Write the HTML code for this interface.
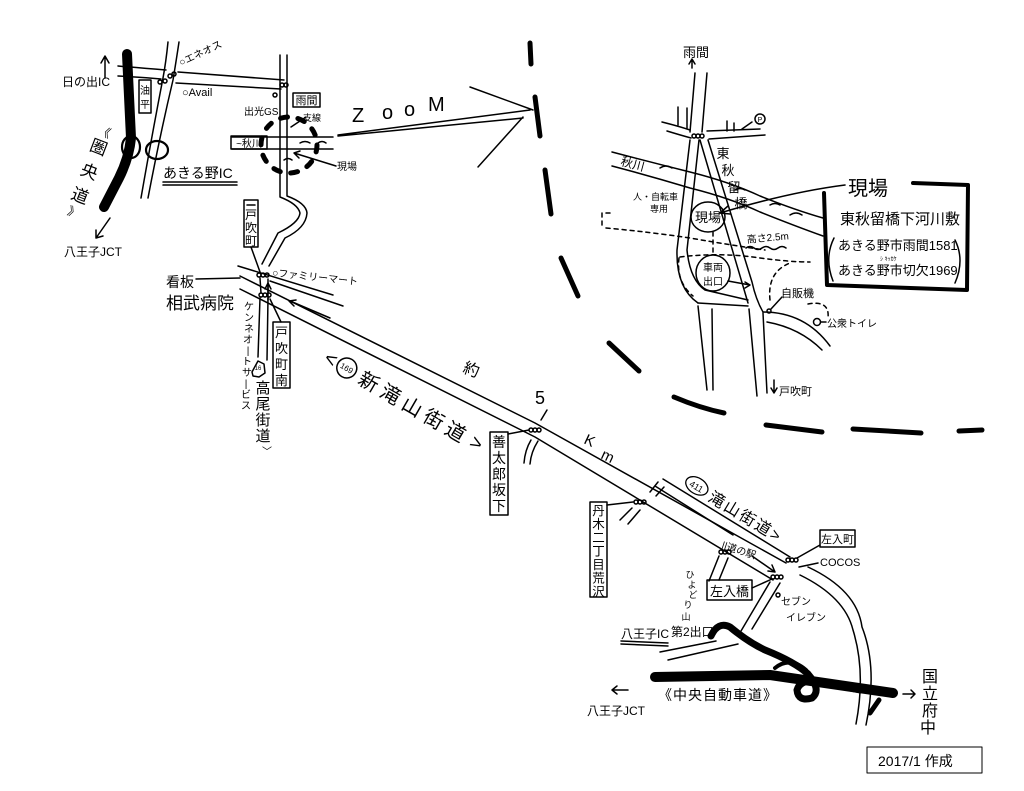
<!DOCTYPE html>
<html><head><meta charset="utf-8">
<style>
html,body{margin:0;padding:0;background:#fff;}
svg{display:block;}
text{font-family:"Liberation Sans","Noto Sans CJK JP",sans-serif;fill:#000;stroke:none;}
</style></head><body>
<svg width="1024" height="791" viewBox="0 0 1024 791" xmlns="http://www.w3.org/2000/svg">
<rect width="1024" height="791" fill="#fff"/>
<g fill="none" stroke="#000" stroke-width="1.5" stroke-linecap="round" stroke-linejoin="round">
 <!-- ===== top-left map ===== -->
 <path d="M127,54 L131,138 Q129,158 119,178 L104,207" stroke-width="10"/>
 <path d="M105,78 L105,57 M101,63 L105,56 L109,63"/>
 <path d="M110,218 L96,238 M96,230 L96,238 L103,236"/>
 <path d="M118,66 Q140,68 166,70"/>
 <path d="M118,76 Q140,77 161,79"/>
 <path d="M178,72 L284,80"/>
 <path d="M176,83 L281,89"/>
 <path d="M168,42 Q166,62 163,78 Q152,135 141,198"/>
 <path d="M179,42 Q176,62 173,80 Q160,135 148,198"/>
 <ellipse cx="131" cy="147" rx="9" ry="11" stroke-width="2.2"/>
 <ellipse cx="157" cy="150" rx="11" ry="9" stroke-width="2.2"/>
 <rect x="139" y="80" width="12" height="33"/>
 <path d="M280,55 L280,197 Q298,204 300,213 Q299,223 278,233 L262,264"/>
 <path d="M287,55 L287,196 Q306,203 307,213 Q306,228 285,238 L269,266"/>
 <circle cx="289" cy="145" r="28" stroke-width="5" stroke-dasharray="7 10.6"/>
 <path d="M232,137 L333,137 M232,149 L333,149"/>
 <path d="M300,143 q5,-3 10,0 M318,143 q4,-3 8,0 M284,160 q4,-3 8,0"/>
 <rect x="231" y="136" width="36" height="13"/>
 <rect x="293" y="93" width="27" height="14"/>
 <path d="M306,117 L291,127"/>
 <path d="M336,166 L294,153 M300,151 L294,153 L299,158"/>
 <path d="M163,182 L237,182 M163,185 L237,185"/>
 <rect x="244" y="200" width="14" height="47"/>
 <path d="M247,205 L255,205"/>
 <path d="M251,247 L260,272"/>
 <circle cx="170" cy="76" r="2"/><circle cx="174" cy="74" r="2"/>
 <circle cx="282" cy="85" r="2"/><circle cx="286" cy="85" r="2"/>
 <circle cx="275" cy="95" r="2"/>
 <circle cx="160" cy="82" r="2"/><circle cx="165" cy="81" r="2"/>

 <!-- junction area -->
 <path d="M238,266 L333,295"/>
 <path d="M270,281 L343,306"/>
 <path d="M196,279 L240,278"/>
 <path d="M260,278 L261,293 M268,279 L268,293"/>
 <path d="M260,298 L258,357 M268,298 L267,360"/>
 <path d="M252,372 L258,361 L264,364 L265,373 L259,377 L253,376 Z"/>
 <path d="M268,300 L268,284 M265,289 L268,283 L271,289"/>
 <path d="M330,318 L290,301 M296,300 L289,301 L294,306"/>
 <rect x="273" y="322" width="17" height="66"/>
 <path d="M281,322 L270,299"/>
 <circle cx="259" cy="275" r="2"/><circle cx="263" cy="275" r="2"/><circle cx="267" cy="275" r="2"/>
 <circle cx="261" cy="295" r="2"/><circle cx="265" cy="295" r="2"/><circle cx="269" cy="295" r="2"/>

 <!-- main road 新滝山街道 -->
 <path d="M240,276 L535,423 L786,563"/>
 <path d="M240,289 L535,437 L773,580"/>
 <path d="M531,440 Q525,450 524,463 M538,441 Q531,452 530,464 M541,420 L547,410"/>
 <circle cx="531" cy="430" r="2"/><circle cx="535" cy="430" r="2"/><circle cx="539" cy="430" r="2"/>
 <rect x="490" y="432" width="18" height="83"/>
 <path d="M508,434 L529,430"/>
 <path d="M632,508 L620,520 M640,510 L628,524 M650,492 L658,482 M656,496 L664,487"/>
 <circle cx="636" cy="502" r="2"/><circle cx="640" cy="502" r="2"/><circle cx="644" cy="502" r="2"/>
 <rect x="590" y="502" width="17" height="95"/>
 <path d="M607,505 L633,502"/>
 <!-- 411 road -->
 <path d="M663,479 L790,557"/>
 <path d="M655,486 L733,535"/>
 <path d="M719,556 L709,581 M728,558 L719,580"/>
 <circle cx="721" cy="552" r="2"/><circle cx="725" cy="552" r="2"/><circle cx="729" cy="552" r="2"/>
 <path d="M752,556 L775,572 M768,571 L775,572 L772,565"/>
 <circle cx="773" cy="577" r="2"/><circle cx="777" cy="577" r="2"/><circle cx="781" cy="577" r="2"/>
 <circle cx="788" cy="560" r="2"/><circle cx="792" cy="560" r="2"/><circle cx="796" cy="560" r="2"/>
 <rect x="820" y="530" width="35" height="17"/>
 <path d="M820,545 L797,558"/>
 <path d="M818,563 L799,567"/>
 <rect x="707" y="580" width="45" height="20"/>
 <path d="M752,588 L772,579"/>
 <circle cx="778" cy="595" r="2"/>
 <path d="M770,582 L741,631 M780,583 L752,629"/>
 <path d="M800,575 Q845,597 853,630 Q866,672 856,724"/>
 <path d="M808,567 Q857,590 862,627 Q878,668 866,725"/>

 <!-- expressway bottom -->
 <path d="M655,677 L770,675 L893,693" stroke-width="10"/>
 <path d="M711,636 Q718,621 730,627 Q748,642 765,650 Q795,662 808,674 Q822,690 812,698 Q798,702 797,690 Q800,680 815,681 L860,690" stroke-width="7"/>
 <path d="M775,668 Q790,656 806,670" stroke-width="4"/>
 <path d="M870,713 L879,700" stroke-width="5"/>
 <path d="M660,652 L716,641 M668,660 L738,644"/>
 <path d="M621,641 L668,643 M621,644 L668,646"/>
 <path d="M612,690 L628,690 M617,686 L612,690 L617,694"/>
 <path d="M903,694 L915,694 M911,690 L915,694 L911,698"/>

 <!-- ZOOM arrow -->
 <path d="M338,135 L530,110 M338,136 L523,118 M470,87 L533,110 M523,117 L478,167"/>

 <!-- dashed arc -->
 <g stroke-width="5">
  <path d="M530,43 L531,64"/>
  <path d="M535,97 L540,136"/>
  <path d="M545,170 L551,214"/>
  <path d="M561,258 L578,296"/>
  <path d="M609,343 L639,371"/>
  <path d="M674,397 Q700,408 724,413"/>
  <path d="M766,425 L822,432"/>
  <path d="M853,429 L921,433"/>
  <path d="M959,431 L982,430"/>
 </g>

 <!-- ===== zoom map ===== -->
 <path d="M692,68 L692,60 M689,64 L692,59 L695,64"/>
 <path d="M695,73 L690,132 M707,73 L702,132"/>
 <path d="M662,122 Q678,126 690,130 M667,131 Q680,135 691,138"/>
 <path d="M707,131 L760,129 M709,139 L765,135"/>
 <path d="M678,107 L678,125 M687,108 L687,128"/>
 <path d="M727,121 L727,131 M734,123 L734,131 M742,129 L752,122"/>
 <circle cx="760" cy="119" r="5"/>
 <circle cx="694" cy="136" r="2"/><circle cx="698" cy="136" r="2"/><circle cx="702" cy="136" r="2"/>
 <path d="M690,140 L677,250 Q676,288 698,303"/>
 <path d="M699,140 L687,250 Q690,280 705,290 L748,300"/>
 <path d="M700,140 L748,303 M708,140 L752,282 Q756,300 763,312"/>
 <path d="M698,303 L748,306"/>
 <path d="M698,306 L707,390 M712,309 L713,390 M749,309 L757,396 M763,313 L767,393"/>
 <path d="M763,312 Q805,312 830,346 M767,322 Q800,328 822,350"/>
 <path d="M612,152 Q650,162 690,172 Q730,182 760,196 Q795,210 823,218"/>
 <path d="M612,166 Q650,176 690,188 Q730,198 760,212 Q795,226 823,236"/>
 <path d="M660,168 q6,-4 12,0 M735,190 q5,-3 10,0 M790,215 q6,-4 12,0 M770,205 q5,-3 10,0"/>
 <ellipse cx="708" cy="217" rx="17" ry="15"/>
 <ellipse cx="713" cy="273" rx="17" ry="18"/>
 <g stroke-dasharray="4 4">
  <path d="M610,213 L602,213 L602,228"/>
  <path d="M606,228 Q650,232 690,238 Q730,245 765,250"/>
  <path d="M680,257 Q720,252 760,258 Q790,262 810,262"/>
  <path d="M713,232 L713,255"/>
  <path d="M679,258 Q676,282 693,296"/>
  <path d="M770,300 Q767,272 790,263"/>
  <path d="M808,304 Q830,300 828,318"/>
 </g>
 <path d="M746,248 q4,-3 8,0 t8,0 t8,0 t8,0 t8,0"/>
 <path d="M728,281 L750,285 M745,282 L750,285 L745,288"/>
 <circle cx="769" cy="311" r="2"/>
 <path d="M771,309 L782,297"/>
 <circle cx="817" cy="322" r="3.5"/>
 <path d="M821,322 L826,322"/>
 <path d="M774,380 L774,392 M771,388 L774,393 L777,388"/>
 <path d="M913,183 L968,185 L967,290 L827,285 L824,193" stroke-width="4"/>
 <path d="M845,185 Q790,192 720,213"/>
 <path d="M728,206 L720,213 L730,214"/>
 <path d="M834,238 Q824,258 833,281 M955,240 Q965,260 955,283"/>

 <rect x="867" y="747" width="115" height="26" stroke-width="1"/>
</g>

<!-- ===== TEXT ===== -->
<g>
 <text x="62" y="86" font-size="12">日の出IC</text>
 <text x="64" y="256" font-size="12">八王子JCT</text>
 <g transform="translate(103,136) rotate(21)" font-size="17" text-anchor="middle">
  <text x="0" y="0" font-size="12">《</text>
  <text x="0" y="18">圏</text>
  <text x="0" y="44">央</text>
  <text x="0" y="70">道</text>
  <text x="0" y="86" font-size="12">》</text>
 </g>
 <text x="181" y="66" font-size="10" transform="rotate(-25 181 66)">○エネオス</text>
 <text x="182" y="96" font-size="11">○Avail</text>
 <text x="145" y="94" font-size="10" text-anchor="middle">油</text>
 <text x="145" y="108" font-size="10" text-anchor="middle">平</text>
 <text x="244" y="115" font-size="10">出光GS</text>
 <text x="306.5" y="104" font-size="11" text-anchor="middle">雨間</text>
 <text x="303" y="121" font-size="9">支線</text>
 <text x="249" y="147" font-size="10" text-anchor="middle">~秋川</text>
 <text x="337" y="170" font-size="10">現場</text>
 <text x="163" y="178" font-size="14">あきる野IC</text>
 <text x="251" y="219" font-size="12" text-anchor="middle">戸</text>
 <text x="251" y="232" font-size="12" text-anchor="middle">吹</text>
 <text x="251" y="245" font-size="12" text-anchor="middle">町</text>
 <text x="272" y="276" font-size="10" transform="rotate(6 272 276)">○ファミリーマート</text>
 <text x="166" y="287" font-size="14">看板</text>
 <text x="166" y="309" font-size="17">相武病院</text>
 <g font-size="10" text-anchor="middle">
  <text x="249" y="310">ケ</text><text x="249" y="321">ン</text><text x="249" y="332">ネ</text>
  <text x="248" y="343">オ</text><text x="248" y="354">|</text><text x="247" y="365">ト</text>
  <text x="247" y="376">サ</text><text x="246" y="387">|</text><text x="246" y="398">ビ</text>
  <text x="246" y="409">ス</text>
 </g>
 <text x="258" y="370" font-size="6" text-anchor="middle">16</text>
 <g font-size="15" text-anchor="middle">
  <text x="263" y="393">高</text><text x="263" y="409">尾</text>
  <text x="263" y="425">街</text><text x="263" y="441">道</text>
 </g>
 <text x="262" y="455" font-size="10">﹀</text>
 <g font-size="13" text-anchor="middle">
  <text x="281.5" y="337">戸</text><text x="281.5" y="353">吹</text>
  <text x="281.5" y="369">町</text><text x="281.5" y="385">南</text>
 </g>
 <g transform="translate(326,356) rotate(30)">
  <text x="0" y="7" font-size="20">&lt;</text>
  <ellipse cx="24" cy="0" rx="10" ry="10" fill="none" stroke="#000" stroke-width="1.5"/>
  <text x="24" y="3" font-size="8" text-anchor="middle">169</text>
  <text x="40" y="8" font-size="20" letter-spacing="5">新滝山街道</text>
  <text x="168" y="7" font-size="20">&gt;</text>
 </g>
 <text x="462" y="372" font-size="16" transform="rotate(20 462 372)">約</text>
 <text x="535" y="404" font-size="18">5</text>
 <text x="583" y="443" font-size="15" transform="rotate(25 583 443)">K</text>
 <text x="600" y="458" font-size="15" transform="rotate(25 600 458)">m</text>
 <g font-size="14" text-anchor="middle">
  <text x="499" y="447">善</text><text x="499" y="463">太</text><text x="499" y="479">郎</text>
  <text x="499" y="495">坂</text><text x="499" y="511">下</text>
 </g>
 <g font-size="12.5" text-anchor="middle">
  <text x="598.5" y="515">丹</text><text x="598.5" y="528.5">木</text><text x="598.5" y="542">二</text>
  <text x="598.5" y="555.5">丁</text><text x="598.5" y="569">目</text><text x="598.5" y="582.5">荒</text>
  <text x="598.5" y="596">沢</text>
 </g>
 <g transform="translate(684,484) rotate(31)">
  <ellipse cx="12" cy="-5" rx="12" ry="8" fill="none" stroke="#000" stroke-width="1.3"/>
  <text x="12" y="-1" font-size="9" text-anchor="middle">411</text>
  <text x="28" y="2" font-size="16" letter-spacing="2">滝山街道&gt;</text>
 </g>
 <text x="721" y="548" font-size="10" transform="rotate(18 721 548)">||道の駅</text>
 <text x="837.5" y="543" font-size="11" text-anchor="middle">左入町</text>
 <text x="820" y="566" font-size="11">COCOS</text>
 <text x="729.5" y="596" font-size="13" text-anchor="middle">左入橋</text>
 <text x="781" y="605" font-size="10">セブン</text>
 <text x="786" y="621" font-size="10">イレブン</text>
 <g font-size="9" text-anchor="middle">
  <text x="690" y="578">ひ</text><text x="692" y="588">よ</text><text x="693" y="598">ど</text>
  <text x="688" y="608">り</text><text x="686" y="620">山</text>
 </g>
 <text x="621" y="638" font-size="12">八王子IC</text>
 <text x="671" y="636" font-size="12">第2出口</text>
 <text x="587" y="715" font-size="12">八王子JCT</text>
 <text x="658" y="700" font-size="14" letter-spacing="1">《中央自動車道》</text>
 <g font-size="16" text-anchor="middle">
  <text x="930" y="682">国</text><text x="930" y="699">立</text>
  <text x="930" y="716">府</text><text x="928" y="733">中</text>
 </g>
 <text x="878" y="766" font-size="14">2017/1 作成</text>

 <!-- ZOOM -->
 <text x="352" y="122" font-size="20">Z</text>
 <text x="382" y="119" font-size="20">o</text>
 <text x="404" y="116" font-size="20">o</text>
 <text x="428" y="111" font-size="20">M</text>

 <!-- zoom map text -->
 <text x="683" y="57" font-size="13">雨間</text>
 <text x="760" y="122" font-size="7" text-anchor="middle">P</text>
 <text x="620" y="165" font-size="12" transform="rotate(15 620 165)">秋川</text>
 <g font-size="13" text-anchor="middle">
  <text x="723" y="158">東</text><text x="728" y="175">秋</text>
  <text x="734" y="192">留</text><text x="741" y="208">橋</text>
 </g>
 <text x="633" y="200" font-size="9">人・自転車</text>
 <text x="650" y="212" font-size="9">専用</text>
 <text x="708" y="222" font-size="13" text-anchor="middle">現場</text>
 <text x="713" y="271" font-size="10" text-anchor="middle">車両</text>
 <text x="713" y="285" font-size="10" text-anchor="middle">出口</text>
 <text x="747" y="243" font-size="10" transform="rotate(-5 747 243)">高さ2.5m</text>
 <text x="781" y="297" font-size="11">自販機</text>
 <text x="827" y="327" font-size="10">公衆トイレ</text>
 <text x="779" y="395" font-size="11">戸吹町</text>
 <rect x="846" y="177" width="60" height="20" fill="#fff"/>
 <text x="848" y="195" font-size="20">現場</text>
 <text x="840" y="224" font-size="15">東秋留橋下河川敷</text>
 <text x="838" y="250" font-size="13">あきる野市雨間1581</text>
 <text x="880" y="261" font-size="6">ｼ  ｷｯｶｹ</text>
 <text x="838" y="275" font-size="13">あきる野市切欠1969</text>
</g>
</svg>
</body></html>
